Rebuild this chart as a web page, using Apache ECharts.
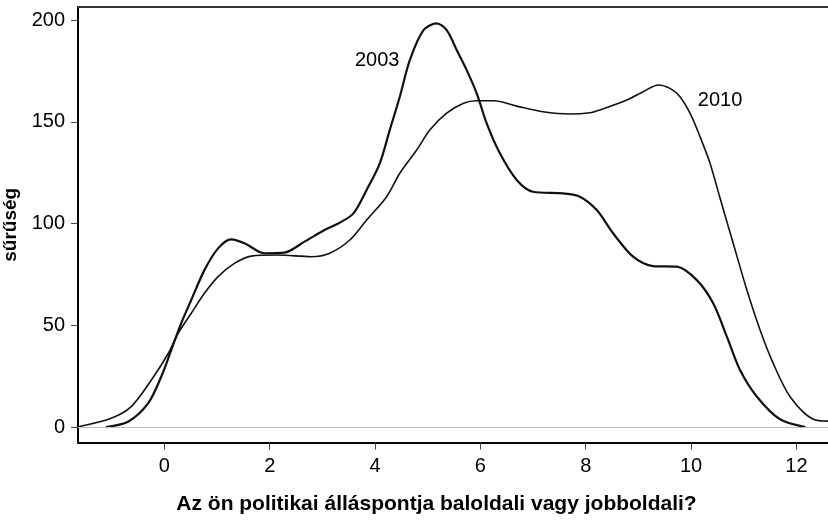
<!DOCTYPE html>
<html>
<head>
<meta charset="utf-8">
<script src="https://cdn.jsdelivr.net/npm/echarts@6/dist/echarts.min.js"></script>
<style>
  html, body { margin: 0; padding: 0; background: #fff; }
  #chart { width: 828px; height: 520px; }
</style>
</head>
<body>
<div id="chart"></div>
<script>
// 2003 sűrűséggörbe
const x2003 = [-1.11, -0.69, -0.31, -0.06, 0.13, 0.32, 0.51, 0.76, 1.02, 1.27, 1.52, 1.90, 2.28, 2.66, 3.04, 3.30, 3.59, 3.84, 4.09, 4.28, 4.47, 4.66, 4.92, 5.17, 5.36, 5.55, 5.74, 5.93, 6.12, 6.37, 6.69, 7.00, 7.57, 7.89, 8.21, 8.52, 8.90, 9.28, 9.73, 10.11, 10.42, 10.68, 10.93, 11.25, 11.69, 12.17]
const y2003 = [0, 2.6, 11.6, 24.7, 37.8, 51, 62.4, 77.1, 87.8, 92.2, 90.3, 85.4, 85.7, 91.1, 96.8, 100, 105, 116.5, 129.6, 146, 162.3, 180.3, 195, 198.4, 195, 185.3, 175.4, 164, 149.2, 134.5, 121.4, 115.6, 114.8, 113.2, 106.6, 95.2, 83.7, 79.1, 78.8, 72.2, 60.8, 44.4, 28, 14.9, 3.8, 0]

// 2010 sűrűséggörbe
const x2010 = [-1.64, -1.01, -0.63, -0.25, 0.07, 0.26, 0.51, 0.76, 1.02, 1.33, 1.65, 2.16, 2.79, 3.14, 3.52, 3.84, 4.22, 4.47, 4.79, 5.04, 5.36, 5.68, 5.93, 6.25, 6.69, 7.19, 7.70, 8.08, 8.27, 8.78, 9.09, 9.38, 9.60, 9.79, 9.98, 10.17, 10.36, 10.55, 10.80, 11.06, 11.31, 11.56, 11.88, 12.32, 12.6]
const y2010 = [0.1, 4.3, 10, 23, 36, 46, 55.9, 65.7, 73.9, 80.4, 84, 84.5, 83.7, 85.4, 91.9, 101.7, 113.2, 124.7, 136.1, 146, 154.2, 159.1, 160.3, 160.3, 157.7, 154.9, 153.8, 154.4, 155.8, 160.7, 164.8, 168.1, 166.4, 162.3, 154.2, 142.7, 129.6, 112.5, 90.3, 67.3, 47.7, 31.3, 14.9, 3.8, 2.9]

const xTicks = [0, 2, 4, 6, 8, 10, 12]
const yTicks = [0, 50, 100, 150, 200]

// görbefeliratok helye adatkoordinátákban
const labelNames = ['2003', '2010']
const labelX = [4.04, 10.55]
const labelY = [180.3, 160.7]

const pairs = (xs, ys) => xs.map((x, i) => [x, ys[i]])

const font = 'Liberation Sans, Arial, sans-serif'
const chart = echarts.init(document.getElementById('chart'))

const option = {
  animation: false,
  grid: { left: 78, right: 0, top: 7, bottom: 77.5, outerBoundsMode: 'none', containLabel: false },
  xAxis: [{
    type: 'value',
    min: -1.64,
    max: 12.6,
    name: 'Az ön politikai álláspontja baloldali vagy jobboldali?',
    nameLocation: 'middle',
    nameGap: 51,
    nameTextStyle: { fontFamily: font, fontWeight: 'bold', fontSize: 21, color: '#000', padding: [0, 33, 0, 0] },
    axisLine: { onZero: false, lineStyle: { color: '#000', width: 2 } },
    axisTick: { show: true, length: 7, customValues: xTicks, lineStyle: { color: '#444' } },
    axisLabel: { customValues: xTicks, margin: 14, fontFamily: font, fontSize: 20, color: '#000' },
    splitLine: { show: false }
  }, {
    type: 'value',
    position: 'top',
    min: -1.64,
    max: 12.6,
    axisLine: { show: true, onZero: false, lineStyle: { color: '#333', width: 2 } },
    axisTick: { show: false },
    axisLabel: { show: false },
    splitLine: { show: false }
  }],
  yAxis: {
    type: 'value',
    min: -7.6,
    max: 206.4,
    name: 'sűrűség',
    nameLocation: 'middle',
    nameRotate: 90,
    nameGap: 47,
    nameTextStyle: { fontFamily: font, fontWeight: 'bold', fontSize: 19, color: '#000' },
    axisLine: { show: true, onZero: false, lineStyle: { color: '#000', width: 2 } },
    axisTick: { show: true, length: 7, customValues: yTicks, lineStyle: { color: '#444' } },
    axisLabel: { customValues: yTicks, margin: 13, fontFamily: font, fontSize: 20, color: '#000' },
    splitLine: { show: false }
  },
  series: [{
    name: '2003',
    type: 'line',
    data: pairs(x2003, y2003),
    smooth: 0.3,
    symbol: 'none',
    lineStyle: { color: '#111', width: 2.2 },
    markLine: {
      silent: true,
      symbol: 'none',
      label: { show: false },
      lineStyle: { color: '#bbb', width: 1, type: 'solid' },
      data: [{ yAxis: 0 }]
    },
    markPoint: {
      symbol: 'circle',
      symbolSize: 0,
      label: { show: true, formatter: '{b}', fontFamily: font, fontSize: 20, color: '#000' },
      data: [{ name: labelNames[0], coord: [labelX[0], labelY[0]] }]
    }
  }, {
    name: '2010',
    type: 'line',
    data: pairs(x2010, y2010),
    smooth: 0.3,
    symbol: 'none',
    lineStyle: { color: '#111', width: 1.6 },
    markPoint: {
      symbol: 'circle',
      symbolSize: 0,
      label: { show: true, formatter: '{b}', fontFamily: font, fontSize: 20, color: '#000' },
      data: [{ name: labelNames[1], coord: [labelX[1], labelY[1]] }]
    }
  }]
}

chart.setOption(option)
</script>
</body>
</html>
